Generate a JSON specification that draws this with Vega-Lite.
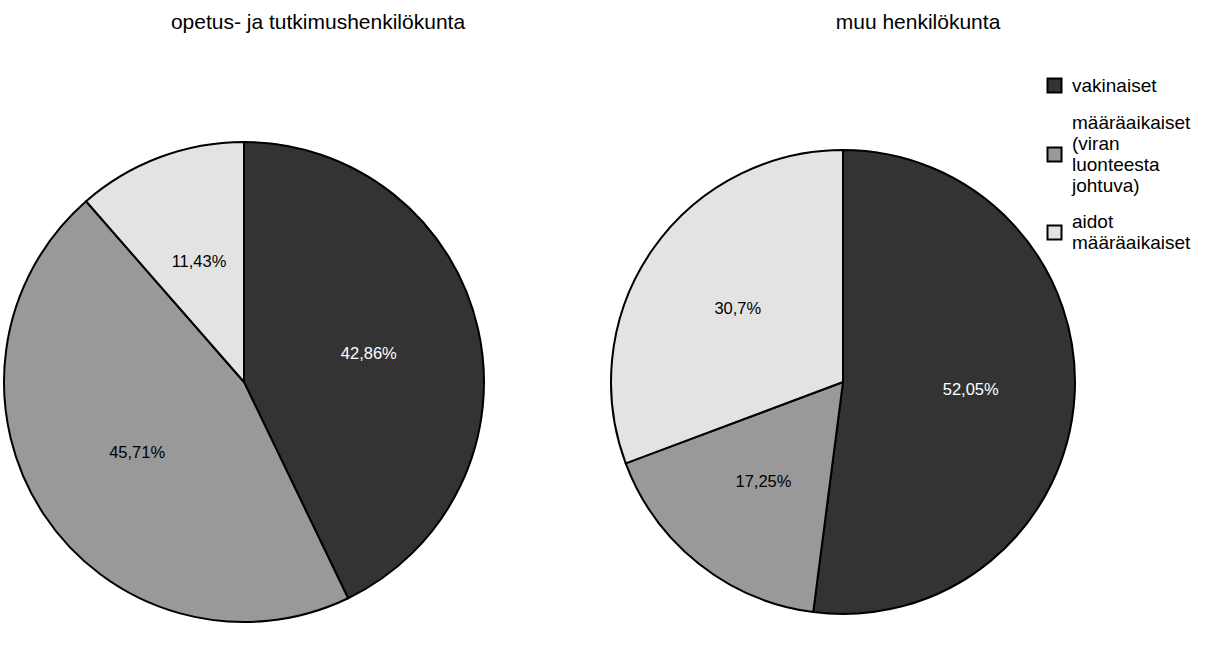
{
  "$schema": "https://vega.github.io/schema/vega-lite/v6.json",
  "background": "white",
  "padding": {"left": 0, "top": 12, "right": 0, "bottom": 0},
  "bounds": "flush",
  "config": {
    "view": {"stroke": null},
    "font": "Liberation Sans",
    "locale": {"number": {"decimal": ",", "thousands": " ", "grouping": [3], "currency": ["", " €"]}},
    "title": {"fontSize": 21, "fontWeight": "normal", "color": "black", "anchor": "middle", "font": "Liberation Sans"}
  },
  "datasets": {
    "henkilosto": [
      {"ryhma": "opetus- ja tutkimushenkilökunta", "luokka": "vakinaiset", "osuus": 0.4286},
      {"ryhma": "opetus- ja tutkimushenkilökunta", "luokka": "määräaikaiset (viran luonteesta johtuva)", "osuus": 0.4571},
      {"ryhma": "opetus- ja tutkimushenkilökunta", "luokka": "aidot määräaikaiset", "osuus": 0.1143},
      {"ryhma": "muu henkilökunta", "luokka": "vakinaiset", "osuus": 0.5205},
      {"ryhma": "muu henkilökunta", "luokka": "määräaikaiset (viran luonteesta johtuva)", "osuus": 0.1725},
      {"ryhma": "muu henkilökunta", "luokka": "aidot määräaikaiset", "osuus": 0.307}
    ]
  },
  "spacing": 149,
  "hconcat": [
    {
      "title": {"text": "opetus- ja tutkimushenkilökunta", "dx": 74, "offset": 85},
      "width": 480,
      "height": 528,
      "data": {"name": "henkilosto"},
      "transform": [{"filter": "datum.ryhma == 'opetus- ja tutkimushenkilökunta'"}],
      "encoding": {
        "theta": {"field": "osuus", "type": "quantitative", "stack": true},
        "order": {"field": "luokka", "sort": "descending"},
        "detail": {"field": "luokka", "type": "nominal"}
      },
      "layer": [
        {
          "mark": {"type": "arc", "outerRadius": 240, "stroke": "black", "strokeWidth": 2},
          "encoding": {
            "color": {
              "field": "luokka", "type": "nominal",
              "scale": {"domain": ["vakinaiset", "määräaikaiset (viran luonteesta johtuva)", "aidot määräaikaiset"], "range": ["#333333", "#999999", "#e3e3e3"]},
              "legend": {
                "title": null, "orient": "none", "legendX": 1041, "legendY": -42,
                "symbolType": "square", "symbolSize": 196, "symbolStrokeColor": "black", "symbolStrokeWidth": 2,
                "labelFont": "Liberation Sans", "labelFontSize": 19, "labelColor": "black", "labelOffset": 8,
                "rowPadding": 17, "padding": 0, "labelLimit": 300,
                "labelExpr": "split(datum.label, ' ')",
                "encode": {
                  "labels": {
                    "update": {
                      "lineHeight": {"value": 21},
                      "dy": {"signal": "-(length(split(datum.label, ' ')) - 1) * 10.5"}
                    }
                  }
                }
              }
            }
          }
        },
        {
          "mark": {"type": "text", "radius": 128, "fontSize": 16.5, "baseline": "middle", "align": "center"},
          "encoding": {
            "text": {"field": "osuus", "type": "quantitative", "format": ".2~%"},
            "color": {"condition": {"test": "datum.luokka == 'vakinaiset'", "value": "white"}, "value": "black"}
          }
        }
      ]
    },
    {
      "title": {"text": "muu henkilökunta", "dx": 75, "offset": 85},
      "width": 420,
      "height": 528,
      "data": {"name": "henkilosto"},
      "transform": [{"filter": "datum.ryhma == 'muu henkilökunta'"}],
      "encoding": {
        "theta": {"field": "osuus", "type": "quantitative", "stack": true},
        "order": {"field": "luokka", "sort": "descending"},
        "detail": {"field": "luokka", "type": "nominal"}
      },
      "layer": [
        {
          "mark": {"type": "arc", "outerRadius": 232, "stroke": "black", "strokeWidth": 2},
          "encoding": {
            "color": {
              "field": "luokka", "type": "nominal",
              "scale": {"domain": ["vakinaiset", "määräaikaiset (viran luonteesta johtuva)", "aidot määräaikaiset"], "range": ["#333333", "#999999", "#e3e3e3"]}
            }
          }
        },
        {
          "mark": {"type": "text", "radius": 128, "fontSize": 16.5, "baseline": "middle", "align": "center"},
          "encoding": {
            "text": {"field": "osuus", "type": "quantitative", "format": ".2~%"},
            "color": {"condition": {"test": "datum.luokka == 'vakinaiset'", "value": "white"}, "value": "black"}
          }
        }
      ]
    }
  ]
}
